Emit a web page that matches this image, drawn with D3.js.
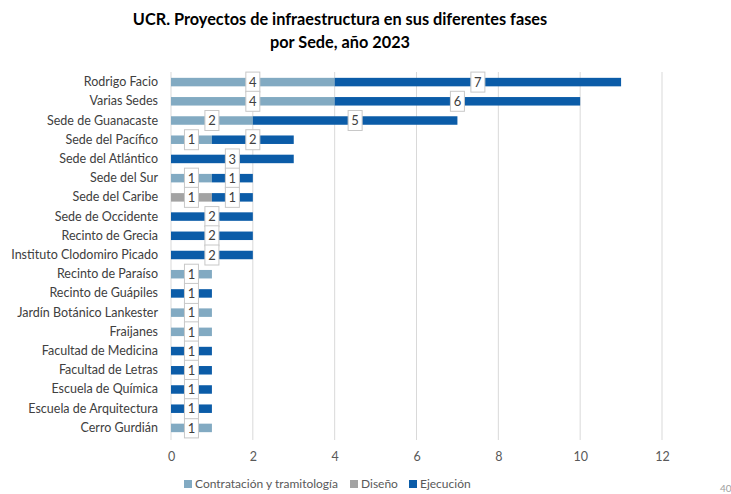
<!DOCTYPE html>
<html>
<head>
<meta charset="utf-8">
<script src="https://cdn.jsdelivr.net/npm/d3@7"></script>
<style>
  body { margin: 0; background: #fff; }
  text { font-family: Lato, "Open Sans", sans-serif; }
</style>
</head>
<body>
<script>
var sedes = ["Rodrigo Facio", "Varias Sedes", "Sede de Guanacaste", "Sede del Pacífico",
  "Sede del Atlántico", "Sede del Sur", "Sede del Caribe", "Sede de Occidente",
  "Recinto de Grecia", "Instituto Clodomiro Picado", "Recinto de Paraíso",
  "Recinto de Guápiles", "Jardín Botánico Lankester", "Fraijanes", "Facultad de Medicina",
  "Facultad de Letras", "Escuela de Química", "Escuela de Arquitectura", "Cerro Gurdián"];
var contratacion = [4, 4, 2, 1, 0, 1, 0, 0, 0, 0, 1, 0, 1, 1, 0, 0, 0, 0, 1];
var diseno       = [0, 0, 0, 0, 0, 0, 1, 0, 0, 0, 0, 0, 0, 0, 0, 0, 0, 0, 0];
var ejecucion    = [7, 6, 5, 2, 3, 1, 1, 2, 2, 2, 0, 1, 0, 0, 1, 1, 1, 1, 0];
var fases = ["Contratación y tramitología", "Diseño", "Ejecución"];
var ticks = [0, 2, 4, 6, 8, 10, 12];

var largura = 731, altura = 494;
var cores = d3.scaleOrdinal().domain(fases).range(["#82aac2", "#a3a3a3", "#0b5ca8"]);

var svg = d3.select("body").append("svg")
  .attr("width", largura).attr("height", altura);

var x = d3.scaleLinear().domain([0, 12]).range([171, 662]);
var y = d3.scaleBand().domain(sedes).range([72, 438]).paddingInner(0.55).paddingOuter(0.3);

// titulo
svg.append("text").attr("x", 340).attr("y", 25).attr("text-anchor", "middle")
  .attr("font-size", 16.3).attr("font-weight", "bold").attr("fill", "#000")
  .text("UCR. Proyectos de infraestructura en sus diferentes fases");
svg.append("text").attr("x", 340).attr("y", 48).attr("text-anchor", "middle")
  .attr("font-size", 16.3).attr("font-weight", "bold").attr("fill", "#000")
  .text("por Sede, año 2023");

// grilla
svg.append("g").selectAll("line").data(ticks).enter().append("line")
  .attr("x1", function(d) { return x(d); }).attr("x2", function(d) { return x(d); })
  .attr("y1", 72).attr("y2", 440)
  .attr("stroke", "#d9d9d9").attr("stroke-width", 1);

var eixo = svg.append("g").attr("transform", "translate(0,457)")
  .call(d3.axisBottom(x).tickValues(ticks).tickSize(0).tickPadding(0));
eixo.select(".domain").remove();
eixo.selectAll("text").attr("font-size", 12.5).attr("fill", "#595959")
  .style("font-family", "Lato, 'Open Sans', sans-serif").attr("dy", "0.32em");

var eixoY = svg.append("g").attr("transform", "translate(158,0)")
  .call(d3.axisLeft(y).tickSize(0).tickPadding(0));
eixoY.select(".domain").remove();
eixoY.selectAll("text").attr("font-size", 12.5).attr("fill", "#404040")
  .style("font-family", "Lato, 'Open Sans', sans-serif");

var linhas = sedes.map(function(s, i) {
  return { sede: s, "Contratación y tramitología": contratacion[i], "Diseño": diseno[i], "Ejecución": ejecucion[i] };
});
var pilha = d3.stack().keys(fases)(linhas);

var segs = [];
pilha.forEach(function(serie) {
  serie.forEach(function(d) {
    if (d[1] - d[0] > 0) segs.push({ fase: serie.key, sede: d.data.sede, x0: d[0], x1: d[1] });
  });
});

var bh = 8.5;
svg.append("g").selectAll("rect").data(segs).enter().append("rect")
  .attr("x", function(d) { return x(d.x0); })
  .attr("width", function(d) { return x(d.x1) - x(d.x0); })
  .attr("y", function(d) { return y(d.sede) + y.bandwidth() / 2 - bh / 2; })
  .attr("height", bh)
  .attr("fill", function(d) { return cores(d.fase); });

var rotulos = svg.append("g").selectAll("g").data(segs).enter().append("g")
  .attr("transform", function(d) {
    return "translate(" + x((d.x0 + d.x1) / 2) + "," + (y(d.sede) + y.bandwidth() / 2) + ")";
  });
rotulos.append("rect").attr("x", -7).attr("y", -10).attr("width", 14).attr("height", 20)
  .attr("fill", "#fff").attr("stroke", "#c8c8c8").attr("stroke-width", 1);
rotulos.append("text").attr("text-anchor", "middle").attr("dy", "0.36em")
  .attr("font-size", 13).attr("fill", "#404040")
  .text(function(d) { return d.x1 - d.x0; });

// legenda
var leg = [{ f: fases[0], x: 184 }, { f: fases[1], x: 350 }, { f: fases[2], x: 409 }];
var lg = svg.append("g").selectAll("g").data(leg).enter().append("g")
  .attr("transform", function(d) { return "translate(" + d.x + ",484)"; });
lg.append("rect").attr("x", 0).attr("y", -4).attr("width", 8).attr("height", 8)
  .attr("fill", function(d) { return cores(d.f); });
lg.append("text").attr("x", 11).attr("dy", "0.35em").attr("font-size", 12).attr("fill", "#595959")
  .text(function(d) { return d.f; });

svg.append("text").attr("x", 720).attr("y", 492).attr("font-size", 10).attr("fill", "#a0a0a0").text("40");
</script>
</body>
</html>
